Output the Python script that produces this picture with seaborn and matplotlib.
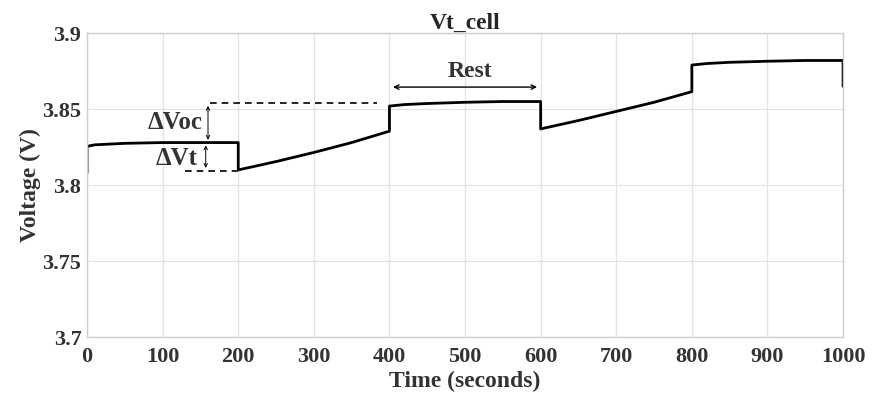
import matplotlib
matplotlib.use("Agg")
import matplotlib.pyplot as plt
import seaborn as sns
import pandas as pd

# Vt_cell trace (duplicate times mark the step jumps)
time_s = [0, 0, 10, 50, 100, 150, 200, 200, 250, 300, 350, 400,
          400, 420, 450, 500, 550, 600, 600, 650, 700, 750, 800,
          800, 820, 850, 900, 950, 1000, 1000]
voltage = [3.808, 3.8255, 3.8265, 3.8275, 3.828, 3.828, 3.828, 3.810, 3.8155, 3.8215, 3.828, 3.8355,
           3.852, 3.853, 3.8537, 3.8545, 3.855, 3.855, 3.837, 3.8425, 3.8485, 3.8545, 3.8615,
           3.879, 3.880, 3.8808, 3.8815, 3.882, 3.882, 3.865]

x_ticks = [0, 100, 200, 300, 400, 500, 600, 700, 800, 900, 1000]
y_ticks = [3.7, 3.75, 3.8, 3.85, 3.9]
y_tick_labels = ["3.7", "3.75", "3.8", "3.85", "3.9"]

df = pd.DataFrame({"Time": time_s, "Voltage": voltage})

sns.set_style("whitegrid")
plt.rcParams["font.family"] = ["Liberation Serif", "DejaVu Serif"]
plt.rcParams["font.weight"] = "bold"

fig = plt.figure(figsize=(8.73, 3.99), dpi=100)
ax = fig.add_axes([0.0997, 0.155, 0.866, 0.762])

sns.lineplot(data=df, x="Time", y="Voltage", estimator=None, sort=False,
             color="black", linewidth=2.0, ax=ax)

txt = "#333333"
ax.set_xlim(0, 1000)
ax.set_ylim(3.7, 3.9)
ax.set_xticks(x_ticks)
ax.set_xticklabels([str(t) for t in x_ticks], fontsize=16, fontweight="bold", color=txt)
ax.set_yticks(y_ticks)
ax.set_yticklabels(y_tick_labels, fontsize=16, fontweight="bold", color=txt)
ax.set_xlabel("Time (seconds)", fontsize=17, fontweight="bold", color=txt, labelpad=3)
ax.set_ylabel("Voltage (V)", fontsize=17, fontweight="bold", color=txt, labelpad=1)
ax.set_title("Vt_cell", fontsize=17, fontweight="bold", pad=3)
ax.tick_params(axis="x", length=0, pad=7)
ax.tick_params(axis="y", length=0, pad=4)
ax.grid(True, color="#e3e3e3", linewidth=0.9)
for sp in ax.spines.values():
    sp.set_color("#cfcfcf")
    sp.set_linewidth(1.0)

# annotations
ax.plot([130, 200], [3.8095, 3.8095], color="black", lw=1.2, dashes=(4, 3))
ax.plot([163, 384], [3.854, 3.854], color="black", lw=1.2, dashes=(4, 3))
ax.annotate("", xy=(160, 3.854), xytext=(160, 3.828),
            arrowprops=dict(arrowstyle="<->", lw=0.7, color="black", mutation_scale=6))
ax.annotate("", xy=(157, 3.828), xytext=(157, 3.8095),
            arrowprops=dict(arrowstyle="<->", lw=0.7, color="black", mutation_scale=6))
ax.text(116, 3.8415, "ΔVoc", fontsize=18, fontweight="bold", ha="center", va="center", color=txt)
ax.text(119, 3.8175, "ΔVt", fontsize=18, fontweight="bold", ha="center", va="center", color=txt)
ax.annotate("", xy=(401, 3.8645), xytext=(599, 3.8645),
            arrowprops=dict(arrowstyle="<->", lw=1.0, color="black", mutation_scale=8))
ax.text(507, 3.8745, "Rest", fontsize=17, fontweight="bold", ha="center", va="center", color=txt)

plt.savefig("out.png", dpi=100)
plt.close()
